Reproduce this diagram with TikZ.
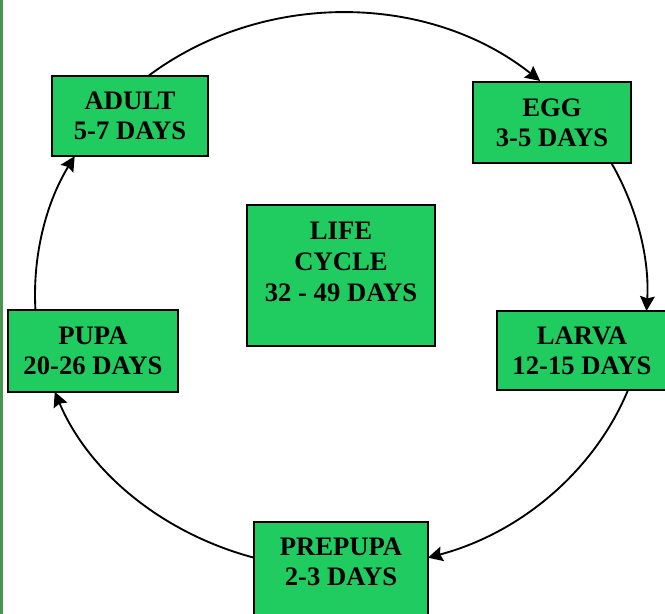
\documentclass[tikz,border=0pt]{standalone}
\usepackage{fontspec}
\setmainfont{Liberation Serif}
\usetikzlibrary{arrows.meta}
\definecolor{stagegreen}{RGB}{32,204,96}
\definecolor{edgegreen}{RGB}{70,150,80}
\begin{document}
\begin{tikzpicture}[x=0.75pt,y=-0.75pt,
  stage/.style={draw=black, line width=1.3pt, fill=stagegreen, align=center,
    inner sep=0pt, font=\fontsize{20}{22.5}\selectfont\bfseries},
  ring/.style={line width=1.4pt, -{Stealth[length=11pt,width=11pt,inset=1.5pt]}}]
\useasboundingbox (0,0) rectangle (665,614);
\clip (0,0) rectangle (665,614);
\fill[white] (0,0) rectangle (665,614);
\fill[edgegreen] (0,0) rectangle (2.5,614);

% centre of the ring
\coordinate (c) at (341,295);

% ring segments, drawn first so the boxes hide their starts
\draw[ring] ([shift={(-130:306 and 282)}]c)
  arc[start angle=-130, end angle=-49.4, x radius=306, y radius=282];
\draw[ring] ([shift={(-28.6:306 and 282)}]c)
  arc[start angle=-28.6, end angle=3.25, x radius=306, y radius=282];
\draw[ring] ([shift={(19.6:306 and 274)}]c)
  arc[start angle=19.6, end angle=73.5, x radius=306, y radius=274];
\draw[ring] ([shift={(105.9:306 and 274)}]c)
  arc[start angle=105.9, end angle=159.3, x radius=306, y radius=274];
\draw[ring] ([shift={(176.3:306 and 282)}]c)
  arc[start angle=176.3, end angle=209.5, x radius=306, y radius=282];

% stages
\node[stage, minimum width=117pt, minimum height=60pt] (adult) at (130,116) {ADULT\\5-7 DAYS};
\node[stage, minimum width=118.5pt, minimum height=61pt] (egg) at (552,122.5) {EGG\\3-5 DAYS};
\node[stage, minimum width=127.5pt, minimum height=59pt] (larva) at (582,350.5) {LARVA\\12-15 DAYS};
\node[stage, minimum width=127.5pt, minimum height=61.5pt] (pupa) at (93,351) {PUPA\\20-26 DAYS};
\node[stage, minimum width=130.5pt, anchor=north, inner ysep=12pt, text depth=50pt] (prepupa) at (341,521) {PREPUPA\\2-3 DAYS};
\node[stage, minimum width=141pt, anchor=north, inner ysep=12.75pt, text depth=20.5pt,
  font=\fontsize{20}{23.25}\selectfont\bfseries] (life) at (341,204) {LIFE\\CYCLE\\32 - 49 DAYS};
\end{tikzpicture}
\end{document}
